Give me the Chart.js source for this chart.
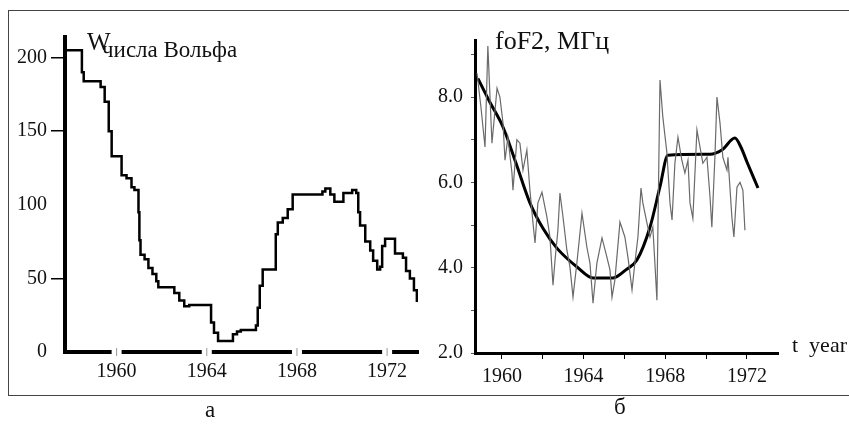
<!DOCTYPE html>
<html>
<head>
<meta charset="utf-8">
<script src="https://cdn.jsdelivr.net/npm/chart.js@4/dist/chart.umd.min.js"></script>
<style>
  body { margin: 0; background: #fff; }
  #wrap { position: relative; width: 849px; height: 428px; overflow: hidden; background: #fff; font-family: "Liberation Serif", "DejaVu Serif", serif; color: #111; }
  #frame { position: absolute; left: 8px; top: 10px; width: 900px; height: 386px; border: 1.5px solid #444; box-sizing: border-box; }
  canvas { position: absolute; top: 0; }
  .t { position: absolute; white-space: nowrap; line-height: 1; }
</style>
</head>
<body>
<div id="wrap">
  <div id="frame"></div>
  <canvas id="c1" width="430" height="428" style="left:0"></canvas>
  <canvas id="c2" width="419" height="428" style="left:430px"></canvas>
  <div class="t" style="left:87px;top:29px;font-size:25px">W</div>
  <div class="t" style="left:102px;top:38px;font-size:23px">числа Вольфа</div>
  <div class="t" style="left:495px;top:28px;font-size:26px">foF2, МГц</div>
  <div class="t" style="left:792px;top:334px;font-size:22px">t&nbsp;&nbsp;year</div>
  <div class="t" style="left:205px;top:398px;font-size:23px">а</div>
  <div class="t" style="left:614px;top:395px;font-size:23px">б</div>
</div>
<script>
// ---- Panel a: Wolf numbers (stepped) ----
const wolfYears = [1957.71,1958.32,1958.46,1958.54,1959.2,1959.29,1959.47,1959.65,1959.78,1960.13,1960.22,1960.44,1960.66,1960.79,1960.97,1961.01,1961.06,1961.24,1961.41,1961.59,1961.76,1961.85,1962.43,1962.56,1962.78,1963.0,1963.22,1964.15,1964.19,1964.32,1964.5,1965.16,1965.34,1965.51,1966.18,1966.26,1966.35,1966.48,1966.97,1967.06,1967.15,1967.37,1967.59,1967.81,1968.95,1969.13,1969.26,1969.48,1969.66,1970.06,1970.45,1970.63,1970.72,1970.8,1971.03,1971.25,1971.38,1971.56,1971.69,1971.78,1971.91,1972.26,1972.35,1972.7,1972.84,1973.01,1973.19,1973.32];
const wolfValues = [205,205,190,184,184,180,170,150,133,133,120,118,112,110,95,76,66,63,57,53,48,44,44,40,35,31,32,32,20,13,7.5,12,14,15,18,30,45,56,56,80,88,91,97,107,107,109,111,107,102,108,110,108,95,86,75,69,62,56,58,72,77,77,67,64,55,50,42,34];
const wolfTicksY = [0, 50, 100, 150, 200];
const wolfTickMarksY = [50, 150, 200];
const yearTicksA = [1960, 1964, 1968, 1972];

// ---- Panel б: foF2 ----
const foYears = [1958.78,1958.97,1959.17,1959.31,1959.51,1959.76,1959.9,1960.05,1960.15,1960.29,1960.49,1960.54,1960.73,1960.88,1961.03,1961.22,1961.37,1961.52,1961.62,1961.76,1961.96,1962.2,1962.35,1962.5,1962.6,1962.74,1962.84,1962.99,1963.18,1963.33,1963.48,1963.67,1963.92,1964.16,1964.31,1964.46,1964.65,1964.9,1965.14,1965.29,1965.39,1965.53,1965.78,1966.02,1966.17,1966.37,1966.51,1966.66,1966.81,1966.9,1967.1,1967.25,1967.39,1967.49,1967.59,1967.74,1967.88,1968.08,1968.23,1968.33,1968.47,1968.62,1968.81,1968.96,1969.11,1969.21,1969.35,1969.55,1969.7,1969.84,1970.04,1970.19,1970.28,1970.43,1970.53,1970.68,1970.82,1971.02,1971.07,1971.26,1971.36,1971.51,1971.66,1971.8,1971.9];
const foValues = [8.56,7.77,6.83,9.2,6.92,8.21,8.0,7.4,6.52,7.06,6.22,5.82,7.0,6.92,6.29,6.76,5.82,5.05,4.58,5.52,5.77,5.19,4.72,3.59,4.18,4.88,5.75,5.19,4.41,4.02,3.31,4.11,5.28,4.48,4.11,3.17,4.11,4.7,4.25,3.95,3.31,3.71,5.07,4.72,4.25,3.48,4.11,4.72,5.87,5.52,5.05,4.72,4.95,4.11,3.24,8.4,7.53,6.69,5.52,5.12,6.45,7.06,6.52,6.22,6.52,5.52,5.16,7.23,6.83,6.45,6.59,5.66,4.95,6.59,8.0,7.39,6.59,6.29,6.59,5.19,4.72,5.89,6.0,5.82,4.88];
const smoothYears = [1958.82,1959.41,1960.05,1960.69,1961.37,1962.0,1962.69,1963.72,1964.46,1965.44,1966.07,1966.61,1967.25,1967.74,1968.13,1970.19,1970.77,1971.41,1971.7,1972.0,1972.54];
const smoothValues = [8.44,7.88,7.3,6.45,5.52,4.93,4.46,4.0,3.76,3.76,3.95,4.18,4.95,5.9,6.64,6.66,6.76,7.04,6.83,6.48,5.87];
const foTicksY = [2, 3, 4, 5, 6, 7, 8, 9];
const yearTicksB = [1960, 1962, 1964, 1966, 1968, 1970, 1972];
const yearLabelsB = [1960, 1964, 1968, 1972];

const pts = (xs, ys) => xs.map((x, i) => ({ x: x, y: ys[i] }));
const serif = "'Liberation Serif', 'DejaVu Serif', serif";
const base = {
  responsive: false, animation: false, events: [],
  plugins: { legend: { display: false }, tooltip: { enabled: false } }
};

// small gaps in the thick x axis of panel a, at each year tick, with a thin mark
const axisGaps = {
  id: 'axisGaps',
  afterDraw(chart) {
    const s = chart.scales.x, ctx = chart.ctx, y = chart.chartArea.bottom;
    ctx.save();
    yearTicksA.forEach(v => {
      const px = s.getPixelForValue(v);
      ctx.fillStyle = '#fff';
      ctx.fillRect(px - 5, y - 3, 10, 6);
      ctx.strokeStyle = '#999';
      ctx.lineWidth = 1;
      ctx.beginPath(); ctx.moveTo(px, y - 4); ctx.lineTo(px, y + 4); ctx.stroke();
    });
    ctx.restore();
  }
};

new Chart(document.getElementById('c1'), {
  type: 'line',
  data: { datasets: [{
    data: pts(wolfYears, wolfValues),
    borderColor: '#000', borderWidth: 2.5, stepped: 'before',
    pointRadius: 0, fill: false
  }]},
  options: Object.assign({}, base, {
    layout: { padding: { left: 0, top: 37, right: 12, bottom: 0 } },
    scales: {
      x: {
        type: 'linear', min: 1957.71, max: 1973.37,
        border: { display: true, width: 4, color: '#000' },
        grid: { display: true, drawOnChartArea: false, drawTicks: false },
        ticks: { font: { family: serif, size: 20 }, color: '#111', padding: 8, callback: v => String(v) },
        afterBuildTicks: s => { s.ticks = yearTicksA.map(v => ({ value: v })); },
        afterFit: s => { s.height = 76; }
      },
      y: {
        min: 0, max: 214,
        border: { display: true, width: 4, color: '#000' },
        grid: { display: true, drawOnChartArea: false, tickLength: 14, lineWidth: 1.5,
                color: c => (c.tick && wolfTickMarksY.includes(c.tick.value)) ? '#000' : 'rgba(0,0,0,0)' },
        ticks: { font: { family: serif, size: 20 }, color: '#111', padding: 4, callback: v => String(v) },
        afterBuildTicks: s => { s.ticks = wolfTicksY.map(v => ({ value: v })); },
        afterFit: s => { s.width = 65; }
      }
    }
  }),
  plugins: [axisGaps]
});

new Chart(document.getElementById('c2'), {
  type: 'line',
  data: { datasets: [
    { data: pts(foYears, foValues), borderColor: '#6a6a6a', borderWidth: 1.2, pointRadius: 0, tension: 0, fill: false },
    { data: pts(smoothYears, smoothValues), borderColor: '#000', borderWidth: 3, pointRadius: 0, cubicInterpolationMode: 'monotone', fill: false }
  ]},
  options: Object.assign({}, base, {
    layout: { padding: { left: 0, top: 40, right: 71, bottom: 0 } },
    scales: {
      x: {
        type: 'linear', min: 1958.68, max: 1973.52,
        border: { display: true, width: 3, color: '#000' },
        grid: { display: true, drawOnChartArea: false, tickLength: 6, color: '#000', lineWidth: 1 },
        ticks: { font: { family: serif, size: 20 }, color: '#111', padding: 6,
                 callback: v => yearLabelsB.includes(v) ? String(v) : '' },
        afterBuildTicks: s => { s.ticks = yearTicksB.map(v => ({ value: v })); },
        afterFit: s => { s.height = 75; }
      },
      y: {
        min: 2, max: 9.34,
        border: { display: true, width: 3, color: '#000' },
        grid: { display: true, drawOnChartArea: false, tickLength: 4, color: '#555', lineWidth: 1 },
        ticks: { font: { family: serif, size: 20 }, color: '#111', padding: 8,
                 callback: v => (v % 2 === 0) ? v.toFixed(1) : '' },
        afterBuildTicks: s => { s.ticks = foTicksY.map(v => ({ value: v })); },
        afterFit: s => { s.width = 45; }
      }
    }
  })
});
</script>
</body>
</html>
